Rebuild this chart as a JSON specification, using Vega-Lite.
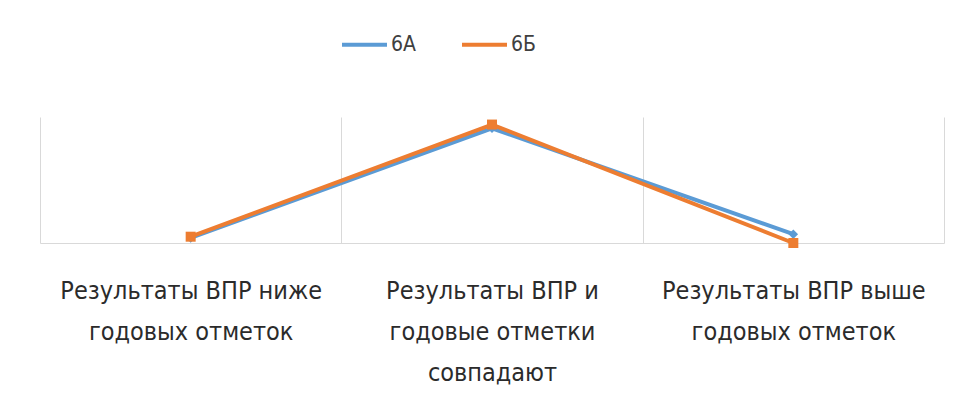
{
  "$schema": "https://vega.github.io/schema/vega-lite/v6.json",
  "width": 904,
  "height": 126,
  "autosize": {"type": "none"},
  "padding": {"left": 40, "top": 117, "right": 12, "bottom": 165},
  "background": "white",
  "config": {
    "view": {"stroke": null},
    "font": "DejaVu Sans Condensed"
  },
  "data": {
    "values": [
      {"category": "Результаты ВПР ниже годовых отметок", "class": "6А", "value": 4},
      {"category": "Результаты ВПР и годовые отметки совпадают", "class": "6А", "value": 91},
      {"category": "Результаты ВПР выше годовых отметок", "class": "6А", "value": 7},
      {"category": "Результаты ВПР ниже годовых отметок", "class": "6Б", "value": 5},
      {"category": "Результаты ВПР и годовые отметки совпадают", "class": "6Б", "value": 94},
      {"category": "Результаты ВПР выше годовых отметок", "class": "6Б", "value": 0}
    ]
  },
  "encoding": {
    "x": {
      "field": "category",
      "type": "nominal",
      "sort": null,
      "title": null,
      "axis": {
        "labelAngle": 0,
        "tickBand": "extent",
        "ticks": false,
        "grid": true,
        "gridColor": "#d9d9d9",
        "domainColor": "#d9d9d9",
        "labelFontSize": 25,
        "labelColor": "#2b2b2b",
        "labelPadding": 35,
        "labelLineHeight": 41,
        "labelBaseline": "top",
        "labelLimit": 0,
        "labelOverlap": false,
        "labelExpr": "datum.label == 'Результаты ВПР ниже годовых отметок' ? ['Результаты ВПР ниже', 'годовых отметок'] : datum.label == 'Результаты ВПР и годовые отметки совпадают' ? ['Результаты ВПР и', 'годовые отметки', 'совпадают'] : datum.label == 'Результаты ВПР выше годовых отметок' ? ['Результаты ВПР выше', 'годовых отметок'] : ''"
      }
    },
    "y": {
      "field": "value",
      "type": "quantitative",
      "scale": {"domain": [0, 100]},
      "axis": null
    },
    "color": {
      "field": "class",
      "type": "nominal",
      "scale": {"domain": ["6А", "6Б"], "range": ["#5B9BD5", "#ED7D31"]},
      "legend": {
        "title": null,
        "orient": "none",
        "direction": "horizontal",
        "legendX": 300,
        "legendY": -97,
        "labelFontSize": 21,
        "labelColor": "#404040",
        "labelOffset": 2,
        "symbolType": "stroke",
        "symbolStrokeWidth": 4,
        "symbolSize": 2025,
        "columnPadding": 38
      }
    }
  },
  "layer": [
    {
      "mark": {"type": "line", "strokeWidth": 4}
    },
    {
      "transform": [{"filter": "datum['class'] == '6А'"}],
      "mark": {"type": "point", "filled": true, "opacity": 1, "shape": "diamond", "size": 90}
    },
    {
      "transform": [{"filter": "datum['class'] == '6Б'"}],
      "mark": {"type": "point", "filled": true, "opacity": 1, "shape": "square", "size": 100}
    }
  ]
}
